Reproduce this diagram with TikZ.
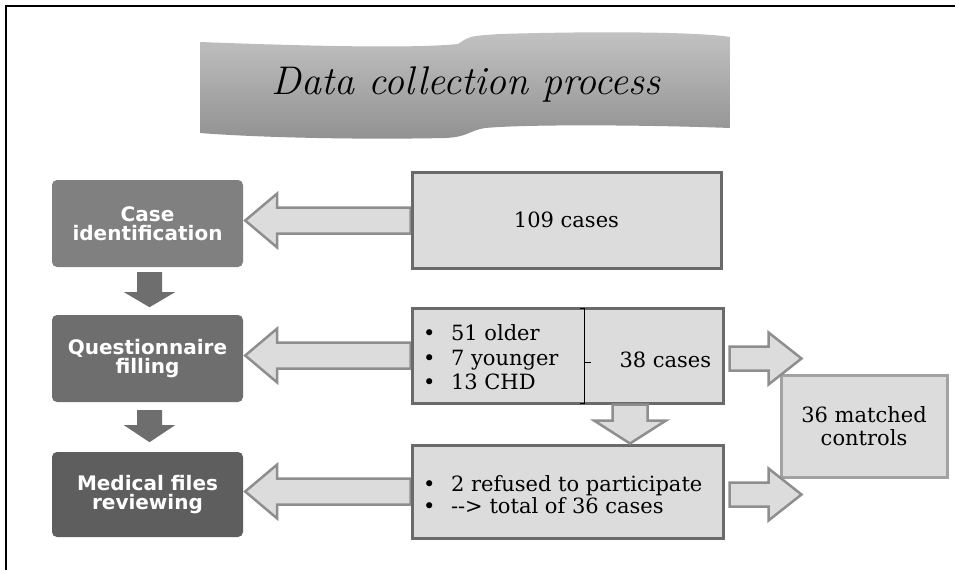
\documentclass[tikz,border=0pt]{standalone}
\usepackage{fontspec}
\usepackage{xcolor}
\usepackage{tikz}
\usetikzlibrary{calc,backgrounds}
\newfontfamily\bodyfont{DejaVu Serif}
\newfontfamily\labelfont{DejaVu Sans}
\definecolor{stepA}{HTML}{808080}
\definecolor{stepB}{HTML}{6E6E6E}
\definecolor{stepC}{HTML}{5E5E5E}
\definecolor{boxfill}{HTML}{DCDCDC}
\definecolor{boxedge}{HTML}{6A6A6A}
\definecolor{arrowedge}{HTML}{8E8E8E}
\definecolor{ctrledge}{HTML}{A2A2A2}
\tikzset{
  stepbox/.style={rounded corners=5pt,text=white,minimum width=191pt,
    minimum height=87pt,align=center,
    font=\labelfont\bfseries\fontsize{20}{19}\selectfont},
  infobox/.style={draw=boxedge,line width=3pt,fill=boxfill,
    font=\bodyfont\fontsize{21}{23}\selectfont},
  infotext/.style={anchor=west,align=left,
    font=\bodyfont\fontsize{21}{24.5}\selectfont},
  hollow/.style={draw=arrowedge,line width=2.5pt,fill=boxfill,line join=miter},
  darrow/.style={fill=stepB},
}
\newcommand{\dotitem}{\makebox[28pt][l]{\textbullet}}

\begin{document}
\begin{tikzpicture}[x=1pt,y=-1pt]
  \useasboundingbox (0,0) rectangle (955,570);
  \begin{pgfonlayer}{background}
    \fill[white] (0,0) rectangle (955,570);
  \end{pgfonlayer}
  \draw[line width=2pt] (6,570) -- (6,6) -- (955,6);

  \shade[top color=gray!48,bottom color=gray!86]
    (200,42) .. controls (330,47) and (420,48) .. (458,44)
    .. controls (470,36) .. (500,34) .. controls (600,31) and (700,32) .. (730,37)
    -- (730,128) .. controls (650,125) and (530,124) .. (485,128)
    .. controls (468,131) and (468,137) .. (445,138)
    .. controls (350,140) and (250,137) .. (200,133) -- cycle;
  \node[font=\itshape\fontsize{40}{44}\selectfont] (title) at (466,84) {Data collection process};

  \node[stepbox,fill=stepA] (case) at (147.5,223.5) {Case\\identification};
  \node[stepbox,fill=stepB] (quest) at (147.5,358.5) {Questionnaire\\filling};
  \node[stepbox,fill=stepC,minimum height=85pt] (med) at (147.5,494.5) {Medical files\\reviewing};

  \fill[darrow] ($(case.south)+(-10.5,5)$) -- ++(25,0) -- ++(0,20) -- ++(13,0)
    -- ++(-25.5,15) -- ++(-25.5,-15) -- ++(13,0) -- cycle;
  \fill[darrow] ($(quest.south)+(-10.5,8)$) -- ++(25,0) -- ++(0,15) -- ++(13,0)
    -- ++(-25.5,17) -- ++(-25.5,-17) -- ++(13,0) -- cycle;

  \node[infobox,minimum width=309pt,minimum height=96pt] (cases) at (566.5,220) {109 cases};
  \node[infobox,minimum width=311pt,minimum height=95pt] (qbox) at (567.5,355.5) {};
  \node[infobox,minimum width=311pt,minimum height=93pt] (mbox) at (567.5,491.5) {};
  \node[infobox,draw=ctrledge,minimum width=166pt,minimum height=102pt,align=center]
    (ctrl) at (864,426) {36 matched\\controls};

  \node[infotext] (qlist) at ($(qbox.west)+(9,2)$)
    {\dotitem 51 older\\\dotitem 7 younger\\\dotitem 13 CHD};
  \node[infotext] (qsum) at (616,360) {38 cases};
  \draw[line width=0.8pt] ($(qbox.north)+(12,1.5)$) -- ++(5,0) -- ($(qbox.south)+(17,-1.5)$) -- ++(-5,0);
  \draw[line width=0.8pt] (584.5,362) -- ++(6,0);
  \node[infotext,font=\bodyfont\fontsize{21}{22}\selectfont] (mlist) at ($(mbox.west)+(9,3)$)
    {\dotitem 2 refused to participate\\\dotitem -{}-> total of 36 cases};

  \begin{pgfonlayer}{background}
    \foreach \a/\b in {case/cases,quest/qbox,med/mbox}
      \draw[hollow] ($(\a.east)+(2,-3)$) coordinate (tip) -- ++(32,-27) -- ++(0,14)
        -- ($(\b.west |- tip)+(0,-13)$) -- ++(0,26) -- ($(tip)+(32,13)$) -- ++(0,14) -- cycle;
  \end{pgfonlayer}

  \foreach \b in {qbox,mbox}
    \draw[hollow] ($(\b.east)+(5,-9)$) -- ++(39,0) -- ++(0,-14) -- ++(33,26)
      -- ++(-33,26) -- ++(0,-14) -- ++(-39,0) -- cycle;

  \coordinate (dtip) at ($(mbox.north)+(62.5,0)$);
  \draw[hollow] (dtip) -- ++(-36,-23) -- ++(18.5,0) -- ($(qbox.south -| dtip)+(-17.5,0)$)
    -- ++(35,0) -- ($(dtip)+(17.5,-23)$) -- ++(18.5,0) -- cycle;
\end{tikzpicture}
\end{document}
